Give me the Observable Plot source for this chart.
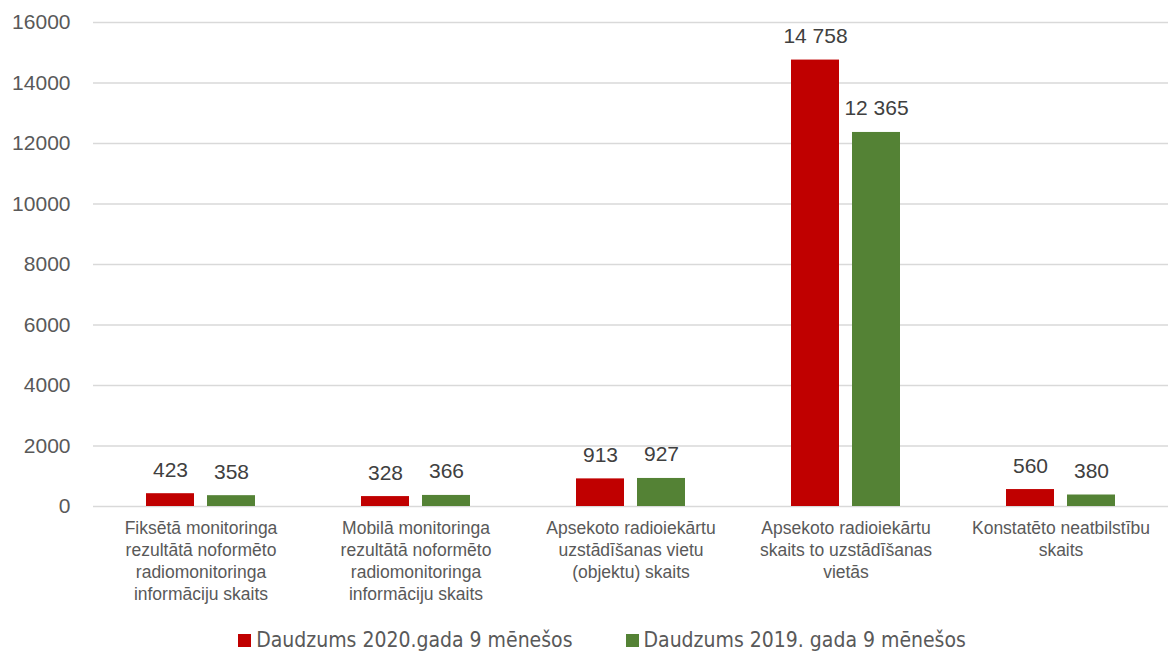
<!DOCTYPE html>
<html>
<head>
<meta charset="utf-8">
<script src="https://cdn.jsdelivr.net/npm/d3@7"></script>
<script src="https://cdn.jsdelivr.net/npm/@observablehq/plot@0.6"></script>
<style>
  html, body { margin: 0; padding: 0; background: #fff; }
  #chart { width: 1168px; }
  .legend { display: flex; justify-content: center; gap: 53px; margin-top: 18px; margin-left: 36px;
    font-family: "Liberation Sans Narrow", "DejaVu Sans Condensed", sans-serif; font-size: 21px; color: #595959; line-height: 24px; }
  .legend span.item { display: flex; align-items: center; }
  .legend span.sw { display: inline-block; width: 13px; height: 13px; margin-right: 5px; }
</style>
</head>
<body>
<div id="chart"></div>
<script>
const categories = [
  "Fiksētā monitoringa\nrezultātā noformēto\nradiomonitoringa\ninformāciju skaits",
  "Mobilā monitoringa\nrezultātā noformēto\nradiomonitoringa\ninformāciju skaits",
  "Apsekoto radioiekārtu\nuzstādīšanas vietu\n(objektu) skaits",
  "Apsekoto radioiekārtu\nskaits to uzstādīšanas\nvietās",
  "Konstatēto neatbilstību\nskaits"
];
const seriesNames = ["Daudzums 2020.gada 9 mēnešos", "Daudzums 2019. gada 9 mēnešos"];
const values2020 = [423, 328, 913, 14758, 560];
const values2019 = [358, 366, 927, 12365, 380];
const yTicks = [0, 2000, 4000, 6000, 8000, 10000, 12000, 14000, 16000];
const colors = ["#c00000", "#548235"];

const data = [];
categories.forEach((c, i) => {
  data.push({cat: c, series: seriesNames[0], value: values2020[i]});
  data.push({cat: c, series: seriesNames[1], value: values2019[i]});
});

const fmt = v => d3.format(",")(v).replace(/,/g, " ");

const chart = Plot.plot({
  width: 1168,
  height: 610,
  marginLeft: 93,
  marginRight: 0,
  marginTop: 22,
  marginBottom: 104,
  style: {fontFamily: "Liberation Sans, Arial, sans-serif", background: "#fff"},
  fx: {domain: categories, padding: 0, label: null},
  x: {domain: seriesNames, paddingInner: 0.21, paddingOuter: 0.84, axis: null},
  y: {domain: [0, 16000], label: null},
  color: {domain: seriesNames, range: colors},
  marks: [
    Plot.ruleY(yTicks, {stroke: "#d9d9d9", strokeWidth: 1.5}),
    Plot.axisY({ticks: yTicks, tickSize: 0, tickPadding: 23, fontSize: 21, fill: "#595959", tickFormat: d => String(d), label: null}),
    Plot.barY(data, {fx: "cat", x: "series", y: "value", fill: "series"}),
    Plot.text(data, {fx: "cat", x: "series", y: "value", text: d => fmt(d.value), dy: -17, lineAnchor: "bottom", fontSize: 21, fill: "#404040"}),
    Plot.axisFx({anchor: "bottom", tickSize: 0, tickPadding: 12, fontSize: 17.5, lineHeight: 1.26, fill: "#595959", label: null, lineAnchor: "top"})
  ]
});
document.getElementById("chart").appendChild(chart);

const legend = document.createElement("div");
legend.className = "legend";
seriesNames.forEach((s, i) => {
  const item = document.createElement("span");
  item.className = "item";
  const sw = document.createElement("span");
  sw.className = "sw";
  sw.style.background = colors[i];
  item.appendChild(sw);
  item.appendChild(document.createTextNode(s));
  legend.appendChild(item);
});
document.getElementById("chart").appendChild(legend);
</script>
</body>
</html>
